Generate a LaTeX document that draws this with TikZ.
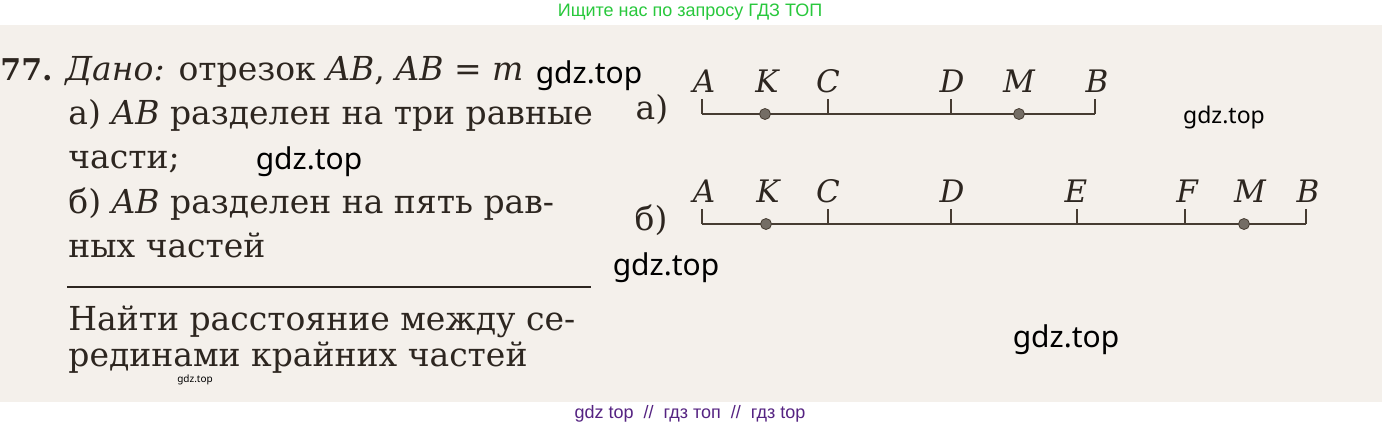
\documentclass[tikz,border=0pt]{standalone}
\usepackage{fontspec}
\setmainfont{DejaVu Serif}
\newfontfamily\wmfont{Noto Sans}
\newfontfamily\bandfont{Liberation Sans}
\definecolor{paper}{RGB}{244,240,235}
\definecolor{ink}{RGB}{45,38,32}
\definecolor{segc}{RGB}{70,60,50}
\definecolor{bandgreen}{RGB}{40,200,60}
\definecolor{bandpurple}{RGB}{85,35,130}
\tikzset{
  txt/.style={anchor=base west, inner sep=0pt, text=ink, font=\fontsize{16.5}{19}\selectfont},
  lbl/.style={anchor=base, inner sep=0pt, text=ink, font=\fontsize{15.5}{18}\selectfont\itshape},
  seg/.style={draw=segc, line width=1pt},
  dot/.style={circle, fill=segc!75, draw=segc, inner sep=0pt, minimum size=5.5pt},
  wm/.style={inner sep=0pt, font=\wmfont\fontsize{15}{18}\selectfont}
}
\begin{document}
\begin{tikzpicture}[x=0.5pt, y=-0.5pt]
    \useasboundingbox (0,0) rectangle (1382,428);
    \fill[white] (0,0) rectangle (1382,428);
    \fill[paper] (0,25) rectangle (1382,402);
    % bands
    \node (top) at (690,12) [inner sep=0pt, text=bandgreen, font=\bandfont\fontsize{9}{11}\selectfont] {Ищите нас по запросу ГДЗ ТОП};
    \node (bottom) at (690,414) [inner sep=0pt, text=bandpurple, font=\bandfont\fontsize{9}{11}\selectfont] {gdz top \ // \ гдз топ \ // \ гдз top};
    % problem text
    \node (num) at (0,80) [txt, font=\fontsize{15}{18}\selectfont\bfseries] {77.};
    \node (t1) at (65,80) [txt] {\textit{Дано:} отрезок \textit{AB}, \textit{AB} = \textit{m}};
    \node (t2) at (68,124) [txt] {а) \textit{AB} разделен на три равные};
    \node (t3) at (68,168) [txt] {части;};
    \node (t4) at (68,213) [txt] {б) \textit{AB} разделен на пять рав-};
    \node (t5) at (68,257) [txt] {ных частей};
    \coordinate (r1) at (67,287); \coordinate (r2) at (591,287);
    \draw[ink, line width=1.2pt] (r1) -- (r2);
    \node (t6) at (68,330) [txt] {Найти расстояние между се-};
    \node (t7) at (68,366) [txt] {рединами крайних частей};
    % segment a)
    \node (la) at (652,110) [txt, anchor=center] {а)};
    \coordinate (aA) at (702,114); \coordinate (aC) at (828,114);
    \coordinate (aD) at (951,114); \coordinate (aB) at (1095,114);
    \draw[seg] (aA) -- (aB);
    \draw[seg] (aA) -- ++(0,-15); \draw[seg] (aC) -- ++(0,-15);
    \draw[seg] (aD) -- ++(0,-15); \draw[seg] (aB) -- ++(0,-15);
    \node (aK) at (765,114) [dot] {}; \node (aM) at (1019,114) [dot] {};
    \node (laA) at (704,92) [lbl] {A}; \node (laK) at (767,92) [lbl] {K};
    \node (laC) at (828,92) [lbl] {C}; \node (laD) at (952,92) [lbl] {D};
    \node (laM) at (1019,92) [lbl] {M}; \node (laB) at (1097,92) [lbl] {B};
    % segment b)
    \node (lb) at (651,220) [txt, anchor=center] {б)};
    \coordinate (bA) at (702,224); \coordinate (bC) at (828,224);
    \coordinate (bD) at (951,224); \coordinate (bE) at (1077,224);
    \coordinate (bF) at (1185,224); \coordinate (bB) at (1306,224);
    \draw[seg] (bA) -- (bB);
    \draw[seg] (bA) -- ++(0,-15); \draw[seg] (bC) -- ++(0,-15);
    \draw[seg] (bD) -- ++(0,-15); \draw[seg] (bE) -- ++(0,-15);
    \draw[seg] (bF) -- ++(0,-15); \draw[seg] (bB) -- ++(0,-15);
    \node (bK) at (766,224) [dot] {}; \node (bM) at (1244,224) [dot] {};
    \node (lbA) at (704,202) [lbl] {A}; \node (lbK) at (768,202) [lbl] {K};
    \node (lbC) at (828,202) [lbl] {C}; \node (lbD) at (952,202) [lbl] {D};
    \node (lbE) at (1076,202) [lbl] {E}; \node (lbF) at (1187,202) [lbl] {F};
    \node (lbM) at (1250,202) [lbl] {M}; \node (lbB) at (1308,202) [lbl] {B};
    % watermarks
    \node (w1) at (589,76) [wm] {gdz.top};
    \node (w2) at (309,162) [wm] {gdz.top};
    \node (w3) at (666,268) [wm] {gdz.top};
    \node (w4) at (1066,340) [wm] {gdz.top};
    \node (w5) at (1224,118) [wm, font=\wmfont\fontsize{11.5}{13}\selectfont] {gdz.top};
    \node (w6) at (195,380) [wm, font=\wmfont\fontsize{5}{6}\selectfont] {gdz.top};
\end{tikzpicture}
\end{document}
